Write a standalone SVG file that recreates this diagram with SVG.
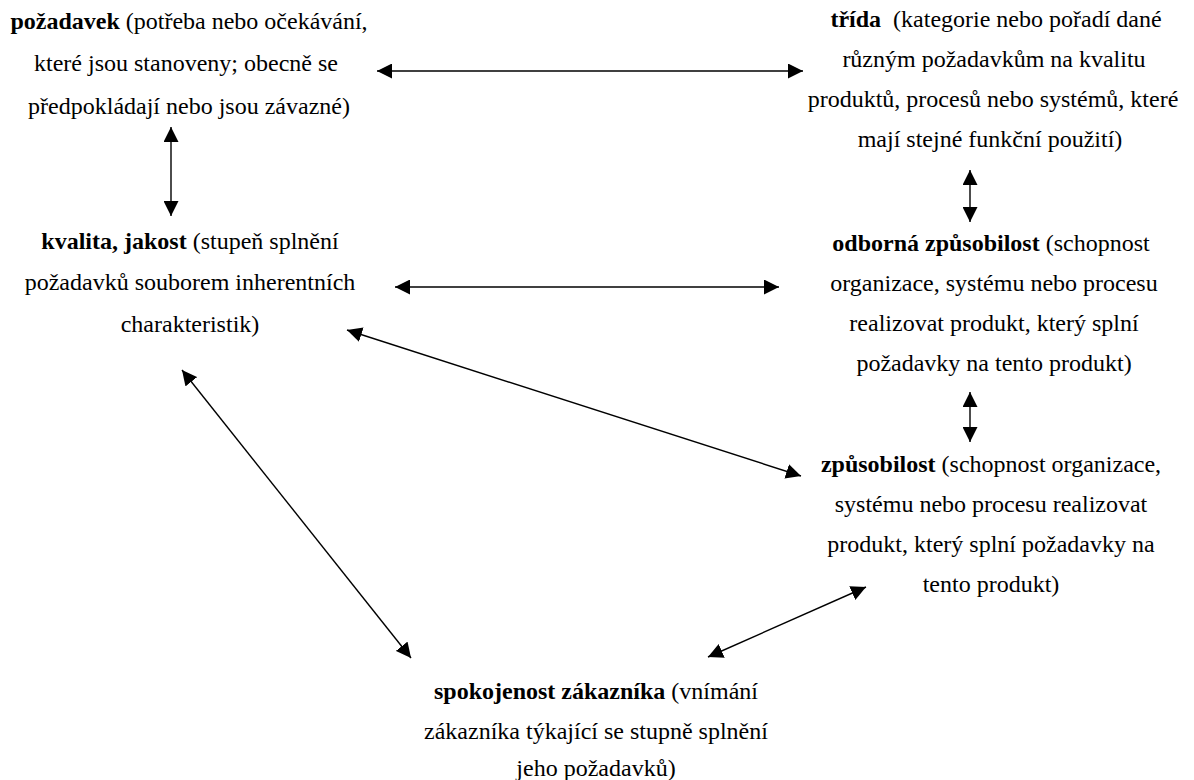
<svg xmlns="http://www.w3.org/2000/svg" width="1194" height="780" viewBox="0 0 1194 780">
  <style>
    .label text { font-family: "Liberation Serif", "Times New Roman", Times, serif; font-size: 24px; fill: #000; text-anchor: middle; }
    .b { font-weight: bold; }
    .link { stroke: #000; stroke-width: 1.4; fill: none; marker-start: url(#head); marker-end: url(#head); }
  </style>
  <defs>
    <!-- solid triangular head used at both ends of every connector -->
    <marker id="head" viewBox="0 0 15 15" refX="15" refY="7.5" markerWidth="15" markerHeight="15" markerUnits="userSpaceOnUse" orient="auto-start-reverse">
      <path d="M0,0 L15,7.5 L0,15 z" fill="#000"/>
    </marker>
  </defs>
  <rect width="1194" height="780" fill="#fff"/>

  <!-- two-headed connectors between the terms -->
  <g id="connectors">
    <line class="link" x1="377" y1="71" x2="803" y2="71"/>
    <line class="link" x1="171" y1="127" x2="171" y2="216"/>
    <line class="link" x1="970" y1="170" x2="970" y2="222"/>
    <line class="link" x1="395" y1="287" x2="779" y2="287"/>
    <line class="link" x1="347" y1="330" x2="801" y2="476"/>
    <line class="link" x1="182" y1="370" x2="411" y2="658"/>
    <line class="link" x1="708" y1="657" x2="866" y2="587"/>
    <line class="link" x1="970" y1="392" x2="970" y2="442"/>
  </g>

  <g id="pozadavek" class="label">
    <text x="189" y="29"><tspan class="b">požadavek</tspan> (potřeba nebo očekávání,</text>
    <text x="186" y="71">které jsou stanoveny; obecně se</text>
    <text x="189" y="114">předpokládají nebo jsou závazné)</text>
  </g>

  <g id="trida" class="label">
    <text x="996" y="27"><tspan class="b">třída</tspan>&#160; (kategorie nebo pořadí dané</text>
    <text x="994" y="67">různým požadavkům na kvalitu</text>
    <text x="993" y="107">produktů, procesů nebo systémů, které</text>
    <text x="990" y="147">mají stejné funkční použití)</text>
  </g>

  <g id="kvalita" class="label">
    <text x="190" y="249"><tspan class="b">kvalita, jakost</tspan> (stupeň splnění</text>
    <text x="190" y="290">požadavků souborem inherentních</text>
    <text x="190" y="332">charakteristik)</text>
  </g>

  <g id="odborna-zpusobilost" class="label">
    <text x="991" y="251"><tspan class="b">odborná způsobilost</tspan> (schopnost</text>
    <text x="994" y="291">organizace, systému nebo procesu</text>
    <text x="994" y="331">realizovat produkt, který splní</text>
    <text x="994" y="371">požadavky na tento produkt)</text>
  </g>

  <g id="zpusobilost" class="label">
    <text x="991" y="472"><tspan class="b">způsobilost</tspan> (schopnost organizace,</text>
    <text x="991" y="512">systému nebo procesu realizovat</text>
    <text x="991" y="552">produkt, který splní požadavky na</text>
    <text x="991" y="592">tento produkt)</text>
  </g>

  <g id="spokojenost" class="label">
    <text x="596" y="699"><tspan class="b">spokojenost zákazníka</tspan> (vnímání</text>
    <text x="596" y="739">zákazníka týkající se stupně splnění</text>
    <text x="596" y="776">jeho požadavků)</text>
  </g>
</svg>
